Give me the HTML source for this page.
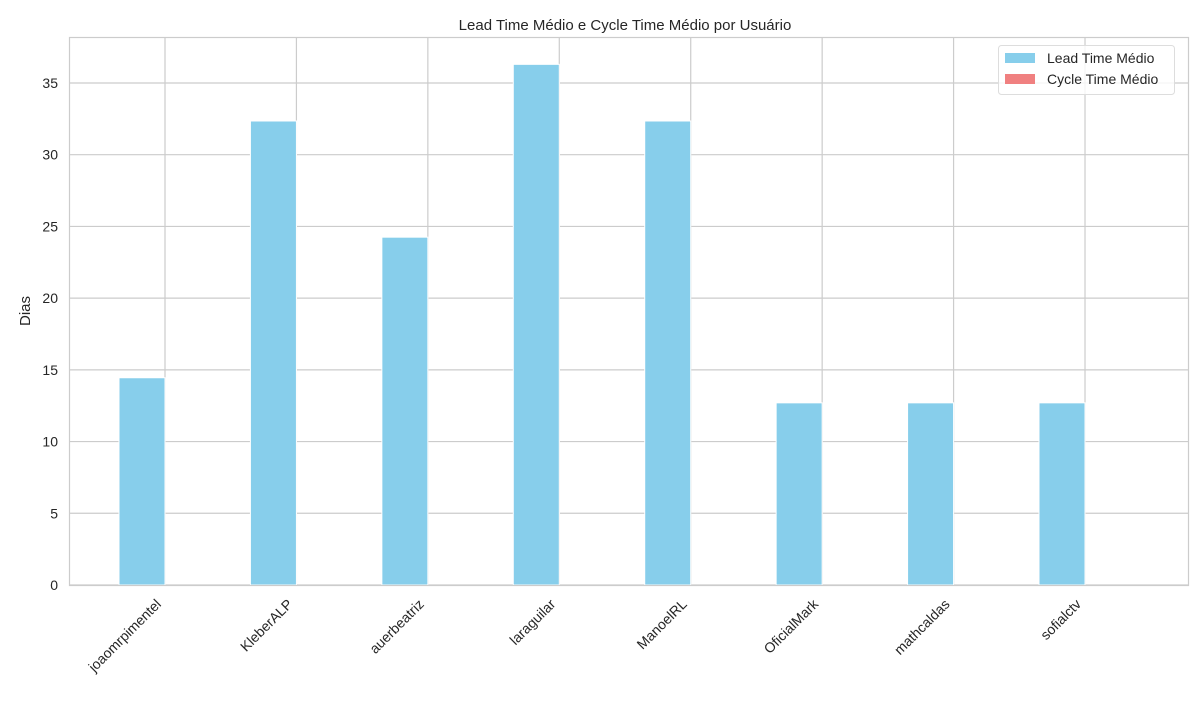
<!DOCTYPE html>
<html><head><meta charset="utf-8"><style>
body{margin:0;background:#fff;}
svg{font-family:"Liberation Sans","DejaVu Sans",sans-serif;}
</style></head><body>
<svg id="c" width="1200" height="700" xmlns="http://www.w3.org/2000/svg">
<text x="625" y="30" font-size="15" text-anchor="middle" fill="#262626">Lead Time Médio e Cycle Time Médio por Usuário</text>
<text x="30" y="311" font-size="15" text-anchor="middle" fill="#262626" transform="rotate(-90 30 311)">Dias</text>
<g id="grid"></g><g id="bars"></g><g id="ticks"></g>
<rect x="69.5" y="37.5" width="1119" height="548" fill="none" stroke="#ccc" stroke-width="1.2"/>
<g>
<rect x="998.5" y="45.5" width="176" height="49" rx="3" fill="#fff" fill-opacity="0.8" stroke="#ddd"/>
<rect x="1005" y="53" width="30" height="10" fill="#87ceeb"/>
<text x="1047" y="63" font-size="14" fill="#262626">Lead Time Médio</text>
<rect x="1005" y="74" width="30" height="10" fill="#f08080"/>
<text x="1047" y="84" font-size="14" fill="#262626">Cycle Time Médio</text>
</g>
</svg>
<script>
const users=["joaomrpimentel","KleberALP","auerbeatriz","laraguilar","ManoelRL","OficialMark","mathcaldas","sofialctv"];
const leadTime=[14.45,32.35,24.25,36.3,32.35,12.7,12.7,12.7];
const cycleTime=[0,0,0,0,0,0,0,0];
const yTicks=[0,5,10,15,20,25,30,35];
const NS="http://www.w3.org/2000/svg";
const X0=69,X1=1188,Y0=585,Y1=37;
const xs=i=>165+i*131.43;
const ys=v=>Y0-v*14.343;
const bw=46;
function mk(t,a,p){const e=document.createElementNS(NS,t);for(const k in a)e.setAttribute(k,a[k]);p.appendChild(e);return e;}
const grid=document.getElementById('grid'),bars=document.getElementById('bars'),ticks=document.getElementById('ticks');
yTicks.forEach(v=>{
 const l=mk('line',{x1:X0,x2:X1,y1:ys(v),y2:ys(v),stroke:'#ccc','stroke-width':1.2},grid);
 
 
 const t=mk('text',{x:58,y:ys(v)+5,'font-size':14,'text-anchor':'end',fill:'#262626'},ticks);
 t.textContent=v;
 
 
});
users.forEach((u,i)=>{
 const l=mk('line',{x1:xs(i),x2:xs(i),y1:Y1,y2:Y0,stroke:'#ccc','stroke-width':1.2},grid);
 
 
 const b=mk('rect',{x:xs(i)-bw,y:ys(leadTime[i]),width:bw,height:Y0-ys(leadTime[i]),fill:'#87ceeb',stroke:'#fff','stroke-width':1},bars);
 
 
 const c=mk('rect',{x:xs(i),y:ys(cycleTime[i]),width:bw,height:Y0-ys(cycleTime[i]),fill:'#f08080'},bars);
 
 
 const tx=xs(i)-3,ty=605;
 const t=mk('text',{x:tx,y:ty,'font-size':14,'text-anchor':'end',fill:'#262626',transform:`rotate(-45 ${tx} ${ty})`},ticks);
 t.textContent=u;
 
 
});
</script>
</body></html>
